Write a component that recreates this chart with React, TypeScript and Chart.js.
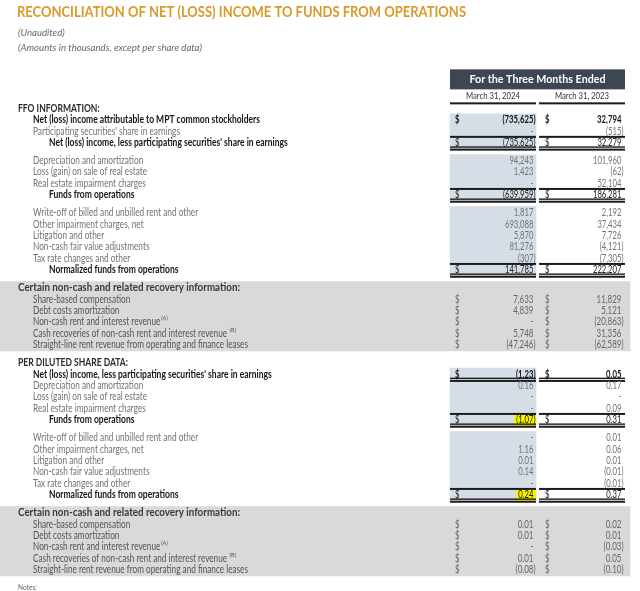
import React, { useEffect, useRef } from 'react';
import { Chart, registerables } from 'chart.js';

Chart.register(...registerables);

// ---------------- DATA ----------------
const TITLE = 'RECONCILIATION OF NET (LOSS) INCOME TO FUNDS FROM OPERATIONS';
const SUBTITLES = ['(Unaudited)', '(Amounts in thousands, except per share data)'];
const PERIOD_HEADER = 'For the Three Months Ended';
const PERIODS = ['March 31, 2024', 'March 31, 2023'];
const NOTES_LABEL = 'Notes:';

// FFO information (amounts in thousands)
const FFO_LABELS = [
  'FFO INFORMATION:',
  'Net (loss) income attributable to MPT common stockholders',
  "Participating securities' share in earnings",
  "Net (loss) income, less participating securities' share in earnings",
  'Depreciation and amortization',
  'Loss (gain) on sale of real estate',
  'Real estate impairment charges',
  'Funds from operations',
  'Write-off of billed and unbilled rent and other',
  'Other impairment charges, net',
  'Litigation and other',
  'Non-cash fair value adjustments',
  'Tax rate changes and other',
  'Normalized funds from operations',
  'Certain non-cash and related recovery information:',
  'Share-based compensation',
  'Debt costs amortization',
  'Non-cash rent and interest revenue',
  'Cash recoveries of non-cash rent and interest revenue',
  'Straight-line rent revenue from operating and finance leases',
];
const FFO_KINDS = ['section', 'lead', 'item', 'total', 'item', 'item', 'item', 'total', 'item', 'item', 'item', 'item', 'item', 'total', 'bandHead', 'band', 'band', 'band', 'band', 'band'];
const FFO_BLOCKS = [0, 0, 0, 0, 1, 1, 1, 1, 2, 2, 2, 2, 2, 2, 3, 3, 3, 3, 3, 3];
const FFO_2024 = [null, -735625, 0, -735625, 94243, 1423, 0, -639959, 1817, 693088, 5870, 81276, -307, 141785, null, 7633, 4839, 0, 5748, -47246];
const FFO_2023 = [null, 32794, -515, 32279, 101960, -62, 52104, 186281, 2192, 37434, 7726, -4121, -7305, 222207, null, 11829, 5121, -20863, 31356, -62589];
const FFO_MARKS = ['', '', '', '', '', '', '', '', '', '', '', '', '', '', '', '', '', '(A)', '(B)', ''];

// Per diluted share data
const PS_LABELS = [
  'PER DILUTED SHARE DATA:',
  "Net (loss) income, less participating securities' share in earnings",
  'Depreciation and amortization',
  'Loss (gain) on sale of real estate',
  'Real estate impairment charges',
  'Funds from operations',
  'Write-off of billed and unbilled rent and other',
  'Other impairment charges, net',
  'Litigation and other',
  'Non-cash fair value adjustments',
  'Tax rate changes and other',
  'Normalized funds from operations',
  'Certain non-cash and related recovery information:',
  'Share-based compensation',
  'Debt costs amortization',
  'Non-cash rent and interest revenue',
  'Cash recoveries of non-cash rent and interest revenue',
  'Straight-line rent revenue from operating and finance leases',
];
const PS_KINDS = ['section', 'leadTotal', 'item', 'item', 'item', 'total', 'item', 'item', 'item', 'item', 'item', 'total', 'bandHead', 'band', 'band', 'band', 'band', 'band'];
const PS_BLOCKS = [4, 4, 4, 4, 4, 4, 5, 5, 5, 5, 5, 5, 6, 6, 6, 6, 6, 6];
const PS_2024 = [null, -1.23, 0.16, 0, 0, -1.07, 0, 1.16, 0.01, 0.14, 0, 0.24, null, 0.01, 0.01, 0, 0.01, -0.08];
const PS_2023 = [null, 0.05, 0.17, 0, 0.09, 0.31, 0.01, 0.06, 0.01, -0.01, -0.01, 0.37, null, 0.02, 0.01, -0.03, 0.05, -0.10];
const PS_MARKS = ['', '', '', '', '', '', '', '', '', '', '', '', '', '', '', '(A)', '(B)', ''];
const PS_HIGHLIGHT_2024 = [5, 11];

// ---------------- LAYOUT ----------------
const W = 640;
const H = 591;
const ROW_PX = 11.45;
const TOP_PX = 108.5;
const GAP = 0.55;
const Y_MIN = -TOP_PX / ROW_PX;
const Y_MAX = Y_MIN + H / ROW_PX;
const TITLE_POS = -8.38;
const SUB_POS = [-6.6, -5.28];
const BOX_POS = [-3.42, -1.67];
const DATE_POS = -1.1;
const DATE_RULE_POS = -0.45;
const X_SECTION = 18;
const X_ITEM = 33;
const X_TOTAL = 49;
const COLS = [
  { start: 450, end: 536, dollar: 455, right: 535.5 },
  { start: 539, end: 625, dollar: 545, right: 623.5 },
];
const BAND_END = 630;
const F = 'Lato, "DejaVu Sans", sans-serif';
const BLUE = '#D5DEE6';
const GRAY = '#D9D9D9';
const YELLOW = '#F4F400';
const RULE = '#1c1c1c';

type Style = { font: string; color: string; sample: string; width: number };
const STYLES: Record<string, Style> = {
  title: { font: `bold 15px ${F}`, color: '#D99A2C', sample: TITLE, width: 449 },
  sub: { font: `italic 10px ${F}`, color: '#666666', sample: SUBTITLES[1], width: 184 },
  head: { font: `bold 11px ${F}`, color: '#ffffff', sample: PERIOD_HEADER, width: 136 },
  date: { font: `9.5px ${F}`, color: '#333333', sample: PERIODS[0], width: 54 },
  section: { font: `bold 10.5px ${F}`, color: '#2a2a2a', sample: PS_LABELS[0], width: 110 },
  bold: { font: `bold 10.5px ${F}`, color: '#151515', sample: FFO_LABELS[1], width: 227 },
  item: { font: `10.5px ${F}`, color: '#737373', sample: FFO_LABELS[2], width: 147 },
  bandHead: { font: `bold 11.5px ${F}`, color: '#3a3a3a', sample: FFO_LABELS[14], width: 222 },
  band: { font: `10.5px ${F}`, color: '#555555', sample: FFO_LABELS[19], width: 215 },
  note: { font: `8px ${F}`, color: '#666666', sample: NOTES_LABEL, width: 19 },
  numItem: { font: `10.5px ${F}`, color: '#737373', sample: '693,088', width: 28.5 },
  numBold: { font: `bold 10.5px ${F}`, color: '#151515', sample: '(735,625)', width: 33 },
  numBand: { font: `10.5px ${F}`, color: '#666666', sample: '(47,246)', width: 29 },
};

type Row = {
  label: string; kind: string; block: number; v: (number | null)[];
  unit: 'k' | 'ps'; mark: string; pos: number; hl: boolean;
};

function buildRows(): Row[] {
  const rows: Row[] = [];
  const add = (labels: string[], kinds: string[], blocks: number[], a: (number | null)[], b: (number | null)[], marks: string[], unit: 'k' | 'ps', hl: number[]) => {
    labels.forEach((label, i) => rows.push({ label, kind: kinds[i], block: blocks[i], v: [a[i], b[i]], unit, mark: marks[i], pos: 0, hl: hl.includes(i) }));
  };
  add(FFO_LABELS, FFO_KINDS, FFO_BLOCKS, FFO_2024, FFO_2023, FFO_MARKS, 'k', []);
  add(PS_LABELS, PS_KINDS, PS_BLOCKS, PS_2024, PS_2023, PS_MARKS, 'ps', PS_HIGHLIGHT_2024);
  rows.push({ label: NOTES_LABEL, kind: 'note', block: 7, v: [null, null], unit: 'k', mark: '', pos: 0, hl: false });
  let gaps = 0;
  rows.forEach((r, i) => {
    if (i > 0 && r.block !== rows[i - 1].block) gaps++;
    r.pos = i + gaps * GAP;
  });
  return rows;
}

function fmt(v: number | null, unit: 'k' | 'ps'): string {
  if (v === null) return '';
  if (v === 0) return '-';
  const d = unit === 'ps' ? 2 : 0;
  const s = Math.abs(v).toLocaleString('en-US', { minimumFractionDigits: d, maximumFractionDigits: d });
  return v < 0 ? `(${s})` : s;
}

const ROWS = buildRows();

const tablePlugin = {
  id: 'financialTable',
  afterDatasetsDraw(chart: any) {
    const ctx: CanvasRenderingContext2D = chart.ctx;
    const xs = chart.scales.x;
    const ys = chart.scales.y;
    const X = (v: number) => xs.getPixelForValue(v);
    const Y = (v: number) => ys.getPixelForValue(v);

    const sq: Record<string, number> = {};
    Object.keys(STYLES).forEach((k) => {
      ctx.font = STYLES[k].font;
      sq[k] = STYLES[k].width / ctx.measureText(STYLES[k].sample).width;
    });

    const text = (s: string, x: number, y: number, st: string, align: CanvasTextAlign = 'left', color?: string) => {
      const style = STYLES[st];
      ctx.font = style.font;
      ctx.fillStyle = color || style.color;
      ctx.textAlign = align;
      ctx.textBaseline = 'middle';
      const w = ctx.measureText(s).width * sq[st];
      if (s) ctx.fillText(s, x, y, Math.max(w, 0.1));
      return w;
    };
    const width = (s: string, st: string) => {
      ctx.font = STYLES[st].font;
      return ctx.measureText(s).width * sq[st];
    };
    const hline = (x0: number, x1: number, y: number, t: number) => {
      ctx.fillStyle = RULE;
      ctx.fillRect(X(x0), y - t / 2, X(x1) - X(x0), t);
    };

    ctx.save();
    // Title & subtitles
    text(TITLE, X(17), Y(TITLE_POS), 'title');
    SUBTITLES.forEach((s, i) => text(s, X(18), Y(SUB_POS[i]), 'sub'));

    // Column header box
    ctx.fillStyle = '#3D4753';
    const by0 = Y(BOX_POS[0]);
    const by1 = Y(BOX_POS[1]);
    ctx.fillRect(X(COLS[0].start), by0, X(COLS[1].end) - X(COLS[0].start), by1 - by0);
    text(PERIOD_HEADER, X((COLS[0].start + COLS[1].end) / 2), (by0 + by1) / 2, 'head', 'center');
    PERIODS.forEach((p, i) => {
      text(p, X((COLS[i].start + COLS[i].end) / 2), Y(DATE_POS), 'date', 'center');
      hline(COLS[i].start, COLS[i].end, Y(DATE_RULE_POS), 2);
    });

    // Highlights
    ROWS.forEach((r) => {
      if (!r.hl) return;
      const y = Y(r.pos);
      const s = fmt(r.v[0], r.unit);
      const c = COLS[0];
      const pw = width(')', 'numItem');
      const right = s.endsWith(')') ? X(c.right) : X(c.right) - pw;
      const w = width(s, 'numItem');
      ctx.fillStyle = YELLOW;
      ctx.fillRect(right - w - 2, y - 5.5, X(c.end) - (right - w - 2), 12.5);
    });

    // Rows
    ROWS.forEach((r) => {
      const y = Y(r.pos);
      let labelStyle = 'item';
      let lx = X_ITEM;
      let numStyle = 'numItem';
      let numColor: string | undefined;
      let dollar = false;
      switch (r.kind) {
        case 'section': labelStyle = 'section'; lx = X_SECTION; break;
        case 'lead':
        case 'leadTotal': labelStyle = 'bold'; numStyle = 'numBold'; dollar = true; break;
        case 'total': labelStyle = 'bold'; lx = X_TOTAL; numColor = '#222222'; dollar = true; break;
        case 'bandHead': labelStyle = 'bandHead'; lx = X_SECTION; break;
        case 'band': labelStyle = 'band'; numStyle = 'numBand'; dollar = true; break;
        case 'note': labelStyle = 'note'; lx = X_SECTION; break;
      }
      const lw = text(r.label, X(lx), y, labelStyle);
      if (r.mark) {
        ctx.font = `5.5px ${F}`;
        ctx.fillStyle = STYLES[labelStyle].color;
        ctx.textAlign = 'left';
        ctx.fillText(r.mark, X(lx) + lw + (r.mark === '(B)' ? 2.5 : 0.8), y - 3.5);
      }

      // rules
      if (r.kind === 'total') {
        COLS.forEach((c) => hline(c.start, c.end, y - 6, 2));
      }
      if (r.kind === 'total' || r.kind === 'leadTotal') {
        COLS.forEach((c) => {
          hline(c.start, c.end, y + 4.2, 1.4);
          hline(c.start, c.end, y + 6.8, 2);
        });
      }

      // values
      r.v.forEach((v, ci) => {
        if (v === null) return;
        const c = COLS[ci];
        const s = fmt(v, r.unit);
        const pw = width(')', numStyle);
        const right = s.endsWith(')') ? X(c.right) : X(c.right) - pw;
        text(s, right, y, numStyle, 'right', numColor);
        if (dollar) text('$', X(c.dollar), y, numStyle, 'left', numColor);
      });
    });
    ctx.restore();
  },
};

function makeConfig(): any {
  const shadeRows = ROWS.filter((r) => ['lead', 'leadTotal', 'item', 'total'].includes(r.kind));
  const bandRows = ROWS.filter((r) => r.kind === 'band' || r.kind === 'bandHead');
  const common = { barThickness: ROW_PX + 0.7, grouped: false, borderWidth: 0, borderSkipped: false };
  return {
    type: 'bar',
    data: {
      datasets: [
        { label: 'Current period column', data: shadeRows.map((r) => ({ x: [COLS[0].start, COLS[0].end], y: r.pos })), backgroundColor: BLUE, ...common },
        { label: 'Recovery information band', data: bandRows.map((r) => ({ x: [0, BAND_END], y: r.pos })), backgroundColor: GRAY, ...common },
      ],
    },
    options: {
      indexAxis: 'y',
      animation: false,
      responsive: false,
      devicePixelRatio: 1,
      events: [],
      layout: { padding: 0 },
      plugins: { legend: { display: false }, tooltip: { enabled: false }, title: { display: false } },
      scales: {
        x: { type: 'linear', min: 0, max: W, display: false, offset: false, grace: 0, grid: { offset: false } },
        y: { type: 'linear', min: Y_MIN, max: Y_MAX, reverse: true, display: false, offset: false, grace: 0, grid: { offset: false } },
      },
    },
    plugins: [tablePlugin],
  };
}

export default function App() {
  const ref = useRef<HTMLCanvasElement>(null);
  useEffect(() => {
    if (!ref.current) return;
    const chart = new Chart(ref.current, makeConfig());
    return () => chart.destroy();
  }, []);
  return (
    <div style={{ position: 'absolute', left: 0, top: 0, width: W, height: H, background: '#ffffff' }}>
      <canvas ref={ref} width={W} height={H} style={{ display: 'block', width: W, height: H }} />
    </div>
  );
}
